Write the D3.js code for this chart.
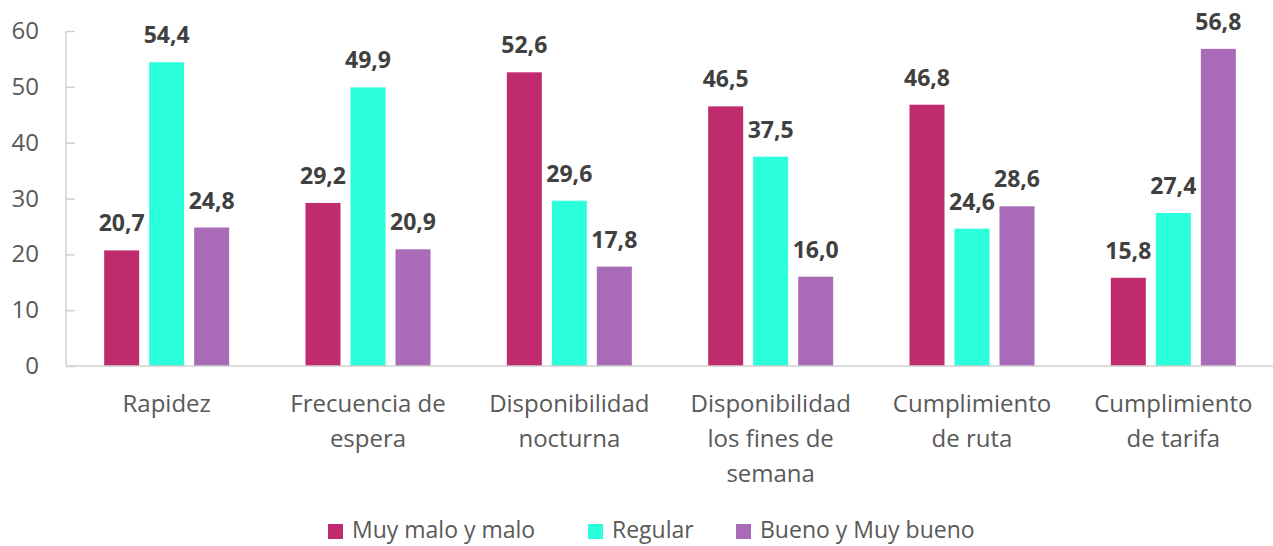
<!DOCTYPE html>
<html>
<head>
<meta charset="utf-8">
<script src="https://cdn.jsdelivr.net/npm/d3@7"></script>
<style>
  body { margin: 0; background: #fff; }
  svg text { font-family: "Open Sans", "Noto Sans", sans-serif; }
</style>
</head>
<body>
<div id="chart"></div>
<script>
var categories = [
  ["Rapidez"],
  ["Frecuencia de", "espera"],
  ["Disponibilidad", "nocturna"],
  ["Disponibilidad", "los fines de", "semana"],
  ["Cumplimiento", "de ruta"],
  ["Cumplimiento", "de tarifa"]
];
var seriesNames = ["Muy malo y malo", "Regular", "Bueno y Muy bueno"];
var malo = [20.7, 29.2, 52.6, 46.5, 46.8, 15.8];
var regular = [54.4, 49.9, 29.6, 37.5, 24.6, 27.4];
var bueno = [24.8, 20.9, 17.8, 16.0, 28.6, 56.8];
var yTicks = [0, 10, 20, 30, 40, 50, 60];

var colors = ["#C02B6E", "#2CFFDC", "#A96BB8"];
var series = [malo, regular, bueno];

var w = 1273, h = 546;
var margin = {left: 66, right: -1, top: 31, bottom: 180};

var svg = d3.select("#chart").append("svg")
  .attr("width", w)
  .attr("height", h);

var x = d3.scaleBand()
  .domain(d3.range(categories.length))
  .range([margin.left, w - margin.right]);

var y = d3.scaleLinear()
  .domain([0, 60])
  .range([h - margin.bottom, margin.top]);

var barW = 35, gap = 10;

// y axis
var yAxis = svg.append("g")
  .attr("transform", "translate(" + margin.left + ",0)")
  .call(d3.axisRight(y).tickValues(yTicks).tickSize(9).tickFormat(""));
yAxis.select(".domain").attr("stroke", "#d0d0d0").attr("stroke-width", 1.5).attr("d", "M0," + y(60) + "V" + y(0));
yAxis.selectAll(".tick line").attr("stroke", "#d0d0d0").attr("stroke-width", 1.5);

svg.selectAll(".ylab")
  .data(yTicks)
  .enter()
  .append("text")
  .attr("x", 39)
  .attr("y", function(d) { return y(d) + 8; })
  .attr("text-anchor", "end")
  .style("font-size", "24px")
  .style("fill", "#595959")
  .text(function(d) { return d; });

// bars
series.forEach(function(vals, s) {
  svg.selectAll(".bar" + s)
    .data(vals)
    .enter()
    .append("rect")
    .attr("x", function(d, i) { return x(i) + x.bandwidth() / 2 - barW * 1.5 - gap + s * (barW + gap); })
    .attr("y", function(d) { return y(d); })
    .attr("width", barW)
    .attr("height", function(d) { return y(0) - y(d); })
    .style("fill", colors[s]);

  svg.selectAll(".lbl" + s)
    .data(vals)
    .enter()
    .append("text")
    .attr("x", function(d, i) { return x(i) + x.bandwidth() / 2 - barW - gap + s * (barW + gap); })
    .attr("y", function(d) { return y(d) - 19; })
    .attr("text-anchor", "middle")
    .style("font-size", "23px")
    .style("font-weight", "bold")
    .style("fill", "#404040")
    .text(function(d) { return d.toFixed(1).replace(".", ","); });
});

// baseline
svg.append("line")
  .attr("x1", margin.left)
  .attr("x2", w)
  .attr("y1", y(0))
  .attr("y2", y(0))
  .style("stroke", "#d0d0d0")
  .style("stroke-width", 1.5);

// category labels
categories.forEach(function(lines, i) {
  var t = svg.append("text")
    .attr("x", x(i) + x.bandwidth() / 2)
    .attr("y", 412)
    .attr("text-anchor", "middle")
    .style("font-size", "24px")
    .style("fill", "#595959");
  lines.forEach(function(l, j) {
    t.append("tspan")
      .attr("x", x(i) + x.bandwidth() / 2)
      .attr("dy", j === 0 ? 0 : 35)
      .text(l);
  });
});

// legend
var legX = [328, 588, 736];
seriesNames.forEach(function(name, s) {
  svg.append("rect")
    .attr("x", legX[s])
    .attr("y", 524)
    .attr("width", 15)
    .attr("height", 15)
    .style("fill", colors[s]);
  svg.append("text")
    .attr("x", legX[s] + 24)
    .attr("y", 538)
    .style("font-size", "23px")
    .style("fill", "#595959")
    .text(name);
});
</script>
</body>
</html>
